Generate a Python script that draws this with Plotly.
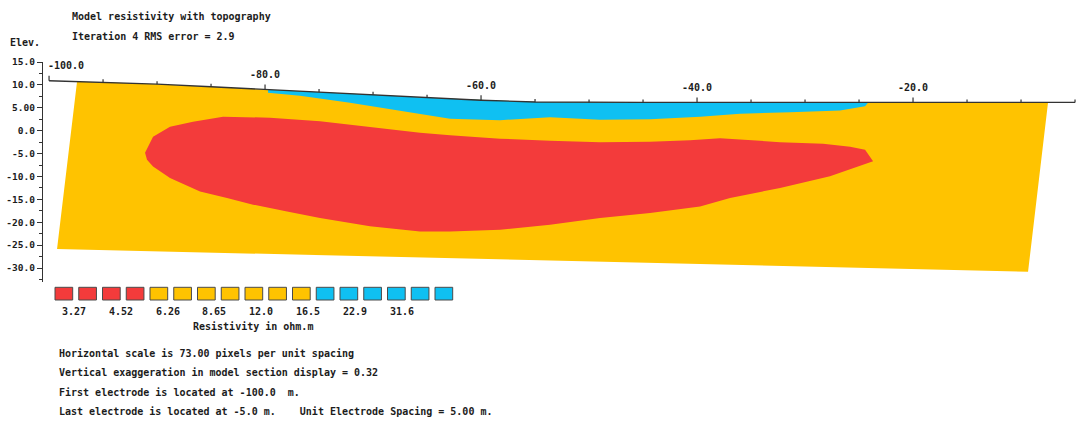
import plotly.graph_objects as go

# ---------------- data ----------------
electrode_x = [-100, -95, -90, -85, -80, -75, -70, -65, -60, -55,
               -50, -45, -40, -35, -30, -25, -20, -15, -10, -5]
surface_elev = [10.92, 10.59, 10.16, 9.61, 9.00, 8.45, 7.82, 7.21, 6.66, 6.27,
                6.18, 6.18, 6.18, 6.18, 6.18, 6.18, 6.18, 6.18, 6.18, 6.18]

top_label_x = [-100, -80, -60, -40, -20]
top_label_text = ["-100.0", "-80.0", "-60.0", "-40.0", "-20.0"]

elev_ticks = [15, 10, 5, 0, -5, -10, -15, -20, -25, -30]
elev_tick_text = ["15.0", "10.0", "5.00", "0.0", "-5.0", "-10.0", "-15.0", "-20.0", "-25.0", "-30.0"]

# model section outline (corners); top edge follows the surface
model_top_left = (-97.41, 10.70)
model_top_right = (-7.50, 6.18)
model_bottom_right = (-9.35, -30.80)
model_bottom_left = (-99.26, -25.84)

# high resistivity (blue) body: ends on surface + lower boundary
blue_top_left = (-79.72, 8.95)
blue_top_right = (-24.17, 6.18)
blue_bottom_x = [-24.17, -24.44, -26.76, -31.39, -36.02, -39.72, -44.35, -48.98,
                 -53.61, -58.24, -62.87, -67.50, -72.13, -76.76, -79.72]
blue_bottom_y = [6.12, 5.31, 4.43, 4.00, 3.71, 3.06, 2.51, 2.40,
                 2.95, 2.29, 2.62, 4.37, 6.11, 7.64, 8.30]

# low resistivity (red) body outline
red_x = [-91.11, -90.37, -88.80, -86.67, -83.89, -79.54, -74.91, -70.28, -65.65, -62.87,
         -58.24, -53.61, -48.98, -44.35, -40.65, -37.87, -32.31, -28.33, -25.83, -24.44,
         -23.70, -27.69, -32.31, -36.94, -39.72, -44.35, -48.98, -53.61, -58.24, -62.87,
         -65.65, -70.28, -74.91, -77.96, -81.11, -83.52, -86.02, -88.80, -90.37, -90.93]
red_y = [-4.81, -1.31, 0.87, 1.97, 3.06, 2.84, 2.08, 0.87, -0.44, -0.98,
         -1.75, -2.18, -2.51, -2.40, -2.08, -1.64, -2.51, -2.84, -3.49, -4.15,
         -6.66, -9.98, -12.52, -14.70, -16.54, -17.98, -19.07, -20.53, -21.63, -22.00,
         -22.00, -20.90, -19.07, -17.63, -16.16, -14.70, -13.26, -10.33, -7.80, -6.33]

legend_colors = ["#F33B3B"] * 4 + ["#FFC300"] * 7 + ["#0FC0F2"] * 6
legend_labels = ["3.27", "4.52", "6.26", "8.65", "12.0", "16.5", "22.9", "31.6"]

title_lines = ["Model resistivity with topography", "Iteration 4 RMS error = 2.9"]
info_lines = [
    "Horizontal scale is 73.00 pixels per unit spacing",
    "Vertical exaggeration in model section display = 0.32",
    "First electrode is located at -100.0\u00a0\u00a0m.",
    "Last electrode is located at -5.0 m.\u00a0\u00a0\u00a0\u00a0Unit Electrode Spacing = 5.00 m.",
]

YELLOW = "#FFC300"
RED = "#F33B3B"
BLUE = "#0FC0F2"
INK = "#1c1c1c"
FONT = dict(family="DejaVu Sans Mono", size=10, color=INK, weight="bold")

# ---------------- layout geometry ----------------
W_FIG, H_FIG = 1076, 421
L, T, PW, PH = 43, 62, 1033, 220
PX_PER_M_Y = PH / (15 + 33.05)


def pxx(p):
    return (p - L) / PW


def pxy(p):
    return (T + PH - p) / PH


fig = go.Figure()

# model section (yellow background)
sx = [x for x in electrode_x if model_top_left[0] < x < model_top_right[0]]
se = [e for x, e in zip(electrode_x, surface_elev) if model_top_left[0] < x < model_top_right[0]]
mx = [model_top_left[0]] + sx + [model_top_right[0], model_bottom_right[0], model_bottom_left[0]]
my = [model_top_left[1]] + se + [model_top_right[1], model_bottom_right[1], model_bottom_left[1]]
fig.add_trace(go.Scatter(x=mx, y=my, fill="toself", fillcolor=YELLOW, mode="lines",
                         line=dict(width=0, color=YELLOW), hoverinfo="skip"))

# blue body
bx_top = [x for x in electrode_x if blue_top_left[0] < x < blue_top_right[0]]
be_top = [e for x, e in zip(electrode_x, surface_elev) if blue_top_left[0] < x < blue_top_right[0]]
bx = [blue_top_left[0]] + bx_top + [blue_top_right[0]] + blue_bottom_x
by = [blue_top_left[1]] + be_top + [blue_top_right[1]] + blue_bottom_y
fig.add_trace(go.Scatter(x=bx, y=by, fill="toself", fillcolor=BLUE, mode="lines",
                         line=dict(width=0, color=BLUE), hoverinfo="skip"))

# red body
fig.add_trace(go.Scatter(x=red_x, y=red_y, fill="toself", fillcolor=RED, mode="lines",
                         line=dict(width=0, color=RED), hoverinfo="skip"))

# surface line
fig.add_trace(go.Scatter(x=electrode_x, y=surface_elev, mode="lines",
                         line=dict(color="#333333", width=1.4), hoverinfo="skip"))

# electrode ticks along the surface
tx, ty = [], []
for x, e in zip(electrode_x, surface_elev):
    ln = 5 if x in top_label_x else 3
    tx += [x, x, None]
    ty += [e, e + ln / PX_PER_M_Y, None]
fig.add_trace(go.Scatter(x=tx, y=ty, mode="lines", line=dict(color="#333333", width=1.2),
                         hoverinfo="skip"))

annotations = []
# distance labels along the surface
for x, t in zip(top_label_x, top_label_text):
    e = surface_elev[electrode_x.index(x)]
    first = x == top_label_x[0]
    annotations.append(dict(x=x, y=e, xref="x", yref="y", text=t, showarrow=False,
                            xanchor="left" if first else "center", yanchor="middle",
                            xshift=-3 if first else 0, yshift=15, font=FONT))

# titles
annotations.append(dict(x=pxx(70), y=pxy(16), xref="paper", yref="paper", text=title_lines[0],
                        showarrow=False, xanchor="left", yanchor="middle", font=FONT))
annotations.append(dict(x=pxx(70), y=pxy(36), xref="paper", yref="paper", text=title_lines[1],
                        showarrow=False, xanchor="left", yanchor="middle", font=FONT))
annotations.append(dict(x=pxx(8), y=pxy(42), xref="paper", yref="paper", text="Elev.",
                        showarrow=False, xanchor="left", yanchor="middle", font=FONT))

# colour legend
shapes = []
for i, c in enumerate(legend_colors):
    x0 = 55 + i * 23.75
    shapes.append(dict(type="rect", xref="paper", yref="paper",
                       x0=pxx(x0), x1=pxx(x0 + 17.7), y0=pxy(300), y1=pxy(287.3),
                       fillcolor=c, line=dict(color="#4a4a4a", width=1)))
for i, t in enumerate(legend_labels):
    annotations.append(dict(x=pxx(74 + i * 46.8), y=pxy(311), xref="paper", yref="paper",
                            text=t, showarrow=False, xanchor="center", yanchor="middle", font=FONT))
annotations.append(dict(x=pxx(253), y=pxy(326), xref="paper", yref="paper",
                        text="Resistivity in ohm.m", showarrow=False,
                        xanchor="center", yanchor="middle", font=FONT))

# info text
for i, t in enumerate(info_lines):
    annotations.append(dict(x=pxx(56.7), y=pxy(353.3 + i * 19.4), xref="paper", yref="paper",
                            text=t, showarrow=False, xanchor="left", yanchor="middle", font=FONT))

fig.update_layout(
    width=W_FIG, height=H_FIG,
    margin=dict(l=L, r=W_FIG - L - PW, t=T, b=H_FIG - T - PH, pad=0),
    paper_bgcolor="white", plot_bgcolor="white",
    showlegend=False,
    xaxis=dict(range=[-100.56, -4.91], visible=False, fixedrange=True),
    yaxis=dict(range=[-33.05, 15], tickmode="array", tickvals=elev_ticks, ticktext=elev_tick_text,
               showgrid=False, zeroline=False, showline=True, linecolor="#333333", linewidth=1.4,
               ticks="outside", ticklen=5, tickcolor="#333333", tickwidth=1.2,
               tickfont=dict(family="DejaVu Sans Mono", size=9.5, color=INK, weight="bold"),
               minor=dict(tickmode="linear", tick0=0, dtick=2.5, ticks="outside", ticklen=3,
                          tickcolor="#333333", tickwidth=1, showgrid=False),
               fixedrange=True),
    annotations=annotations,
    shapes=shapes,
)

fig.write_html("out.html",
               post_script="document.body.style.margin='0';document.body.style.padding='0';",
               config={"displayModeBar": False})
